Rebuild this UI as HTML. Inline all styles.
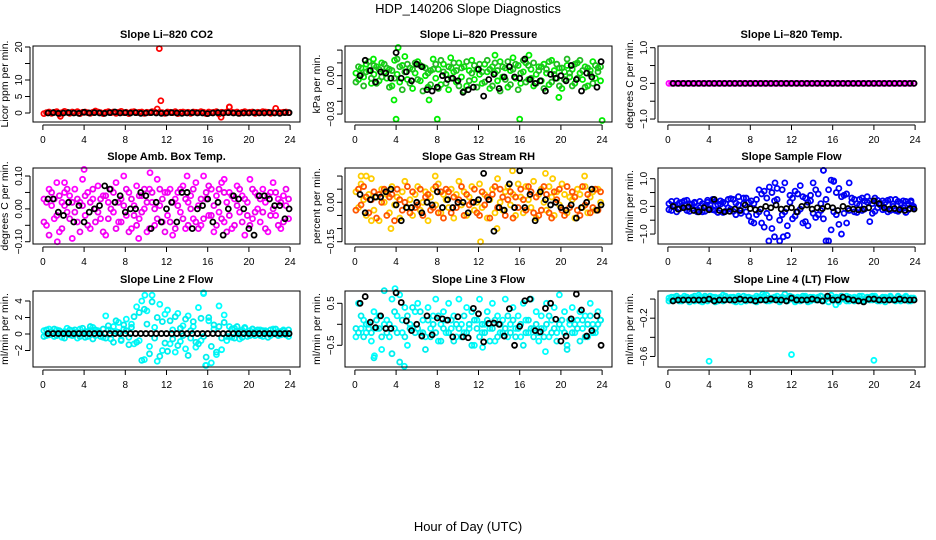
<!DOCTYPE html>
<html><head><meta charset="utf-8"><title>HDP_140206 Slope Diagnostics</title>
<style>
html,body{margin:0;padding:0;background:#fff;}
svg{display:block;font-family:"Liberation Sans",Arial,sans-serif;}
</style></head>
<body>
<svg id="chart" width="936" height="540" viewBox="0 0 936 540" xmlns="http://www.w3.org/2000/svg">
<rect x="0" y="0" width="936" height="540" fill="#fff"/>
<text x="468" y="13" text-anchor="middle" font-size="13">HDP_140206  Slope Diagnostics</text>
<text x="468" y="531" text-anchor="middle" font-size="13">Hour of Day (UTC)</text>
</svg>
<script>
const hours = [0.1,0.35,0.6,0.85,1.1,1.35,1.6,1.85,2.1,2.35,2.6,2.85,3.1,3.35,3.6,3.85,4.1,4.35,4.6,4.85,5.1,5.35,5.6,5.85,6.1,6.35,6.6,6.85,7.1,7.35,7.6,7.85,8.1,8.35,8.6,8.85,9.1,9.35,9.6,9.85,10.1,10.35,10.6,10.85,11.1,11.35,11.6,11.85,12.1,12.35,12.6,12.85,13.1,13.35,13.6,13.85,14.1,14.35,14.6,14.85,15.1,15.35,15.6,15.85,16.1,16.35,16.6,16.85,17.1,17.35,17.6,17.85,18.1,18.35,18.6,18.85,19.1,19.35,19.6,19.85,20.1,20.35,20.6,20.85,21.1,21.35,21.6,21.85,22.1,22.35,22.6,22.85,23.1,23.35,23.6,23.85];
const blackHours = [0.5,1,1.5,2,2.5,3,3.5,4,4.5,5,5.5,6,6.5,7,7.5,8,8.5,9,9.5,10,10.5,11,11.5,12,12.5,13,13.5,14,14.5,15,15.5,16,16.5,17,17.5,18,18.5,19,19.5,20,20.5,21,21.5,22,22.5,23,23.5,23.9];
const xTicks = [0,4,8,12,16,20,24];

// Panel 1: CO2
const co2A = [-.2,.1,.3,-.1,.2,.4,-.3,.1,.5,.2,-.1,.3,.1,.4,-.2,.2,.3,.1,-.1,.2,.6,.3,.1,-.2,.2,.4,.1,.3,-.1,.2,.5,.1,.2,-.2,.3,.4,.1,.2,.3,-.1,.2,.1,.4,.3,1.2,.2,.1,-.1,.3,.2,.1,.4,-.2,.2,.3,.1,.2,-.1,.3,.2,.1,.4,.2,-.2,.3,.1,.2,.4,-.3,.2,.1,.3,1.8,.2,.1,.3,-.1,.2,.4,.1,.2,.3,-.1,.2,.1,.4,.3,.2,-.1,.2,1.4,.3,.1,.2,.3,.1];
const co2B = [];
const co2OutH = [11.3,11.45,17.3,1.7,18.1];
const co2OutV = [19.5,3.7,-1.3,-1.0,1.8];
const co2Black = [0,0.1,-0.1,0,0.1,0,-0.1,0.2,0,0.1,0,-0.1,0.1,0.3,0,0.1,0,0.1,-0.1,0,0.1,0,-0.1,0,0.1,0,-0.1,0,0.1,0,0,-0.2,0,0.1,0,0.1,0,-0.1,0,0,0.1,0,0,0.1,0,-0.1,0.1,0.1];

// Panel 2: Pressure
const presA = [.002,-.003,.006,-.001,.009,.004,-.006,.001,.007,-.004,.010,.003,-.002,.005,-.008,.012,.001,-.005,.008,.015,-.003,.006,-.010,.002,.011,-.004,.007,.000,-.009,.004,.013,-.002,.005,-.007,.009,.001,-.011,.006,.003,-.005,.010,-.001,.007,-.008,.004,.012,-.003,.005,.001,-.006,.009,.003,-.010,.007,.002,-.004,.011,-.001,.006,-.009,.004,.014,-.002,.008,-.006,.003,.010,-.003,.005,-.008,.001,.007,-.004,.009,.002,-.007,.012,.004,-.002,.006,-.010,.003,.008,-.001,.005,-.006,.010,.002,-.003,.007,-.008,.004,.011,-.002,.006,-.004];
const presB = [-.005,.007,.001,-.008,.003,.011,-.002,.008,-.006,.005,-.001,.009,.006,-.009,.004,-.002,.013,.007,-.011,.003,.009,-.006,.005,.010,-.003,.008,-.012,.006,.002,-.007,.005,.009,-.010,.012,.003,-.006,.007,-.002,.010,.004,-.008,.006,-.012,.011,-.004,.002,.008,-.009,.009,.003,-.005,.012,.005,-.008,.010,.004,-.012,.007,-.003,.011,-.007,.005,.009,-.011,.002,.012,-.005,.008,-.002,.010,-.006,.004,.007,-.010,.005,.011,-.005,.001,.009,-.008,.006,-.003,.013,.002,-.008,.009,-.002,.012,.004,-.009,.006,.001,-.006,.008,.003,.007];
const presOutH = [4.2,4,8,16,24,3.8,7.2,19.8,16.9,13.6,1.8,9.3];
const presOutV = [.022,-.034,-.034,-.034,-.035,-.019,-.019,-.017,.016,.016,.013,.014];
const presBlack = [.000,.012,.004,-.005,.003,.002,-.002,.018,-.002,.003,-.004,.009,.007,-.011,-.012,-.009,.000,-.003,-.002,-.004,-.013,-.011,-.009,.005,-.016,-.003,.001,-.010,-.001,.007,-.001,-.002,.013,-.003,-.006,-.004,-.012,.001,-.002,.000,-.004,.008,-.003,-.012,.002,-.001,-.009,.011];

// Panel 3: Li-820 Temp
const tempA = [0,0,0,0,0,0,0,0,0,0,0,0,0,0,0,0,0,0,0,0,0,0,0,0,0,0,0,0,0,0,0,0,0,0,0,0,0,0,0,0,0,0,0,0,0,0,0,0,0,0,0,0,0,0,0,0,0,0,0,0,0,0,0,0,0,0,0,0,0,0,0,0,0,0,0,0,0,0,0,0,0,0,0,0,0,0,0,0,0,0,0,0,0,0,0,0];
const tempB = [];
const tempOutH = [];
const tempOutV = [];
const tempBlack = [0,0,0,0,0,0,0,0,0,0,0,0,0,0,0,0,0,0,0,0,0,0,0,0,0,0,0,0,0,0,0,0,0,0,0,0,0,0,0,0,0,0,0,0,0,0,0,0];

// Panel 4: Amb Box Temp
const ambA = [.03,-.05,.06,.01,-.03,.08,-.07,.02,.05,-.01,.04,-.09,.06,-.04,.02,.09,-.02,.05,-.06,.03,.00,.07,-.03,.04,-.08,.02,.06,-.01,.08,-.04,.03,.10,-.02,.05,-.06,.01,.07,-.03,.04,.00,-.07,.06,.02,-.05,.09,.01,-.04,.05,-.02,.06,-.08,.03,.05,-.01,.07,-.06,.02,.04,-.03,.08,.01,-.05,.10,.03,-.02,.06,-.07,.04,-.01,.08,-.04,.02,.05,-.06,.03,.07,-.01,.04,-.08,.02,.09,-.03,.05,.00,-.04,.06,.02,-.07,.05,.08,-.02,.03,-.06,.04,.01,-.03];
const ambB = [-.04,.02,-.08,.05,.03,-.02,.04,-.06,.01,.06,-.03,.02,-.01,.03,-.07,.01,.04,-.05,.02,.06,-.04,-.01,.03,-.07,.04,-.03,.00,.05,-.06,.02,-.04,.01,.06,-.07,.03,-.02,-.05,.04,-.01,.06,.02,-.06,.05,.00,-.03,.06,.03,-.07,.05,-.04,.02,-.06,.01,.06,-.03,.03,-.05,.00,.06,-.04,-.06,.03,-.03,.05,.07,-.02,.01,-.05,.06,-.03,.05,-.07,-.02,.04,-.05,.01,.06,-.04,.03,-.02,-.05,.06,-.01,.04,.03,-.01,-.06,.04,-.02,.00,.05,-.05,.02,-.04,.06,.03];
const ambOutH = [4,1.4,9.3,14,2.1,10.4,17.6];
const ambOutV = [.12,-.10,-.09,.10,.08,.11,.09];
const ambBlack = [.03,.03,-.01,-.02,.02,-.04,.01,-.04,-.01,.00,.01,.07,.06,.02,.04,-.01,.00,.00,.05,.04,-.06,.02,-.04,.00,.02,-.04,.05,.05,-.06,.00,.01,.03,-.04,.02,-.08,.00,.04,.03,.00,-.06,-.08,.04,.04,.03,.01,.01,-.03,.00];

// Panel 5: Gas Stream RH
const rhA = [.04,-.02,.07,.01,-.05,.03,.09,-.03,.02,-.07,.05,.00,.03,-.04,.06,-.01,.02,-.06,.04,.08,-.02,.01,-.05,.03,.06,-.03,.00,.04,-.07,.02,.05,-.01,.07,-.04,.03,.01,-.02,.05,-.06,.03,.08,-.01,.04,-.05,.02,.06,-.03,.00,.07,-.02,.03,-.06,.01,.05,-.04,.09,.00,-.03,.04,.06,-.01,.03,-.05,.07,.02,-.04,.06,.01,-.02,.08,-.06,.03,.05,.00,-.03,.06,.02,-.05,.04,-.01,.07,.03,-.04,.02,.01,-.06,.05,.03,-.02,.06,-.04,.02,.04,-.03,.05,.00];
const rhB = [-.03,.05,-.01,.06,.02,-.04,.01,.04,-.06,.03,.00,.05,-.05,.02,.03,-.07,.05,.01,-.03,.00,.06,-.04,.04,-.02,-.01,.05,-.05,.02,.03,-.03,-.02,.06,-.04,.04,-.06,.05,.04,-.04,.02,-.02,.01,.06,-.05,.03,-.01,.00,.05,-.04,-.05,.04,-.01,.02,-.06,.03,.06,-.02,.05,.02,-.05,.01,.04,-.06,.02,-.02,.05,.01,-.03,.06,.04,-.04,.02,-.05,-.03,.06,.03,-.04,-.06,.04,.01,.05,-.03,-.05,.06,-.02,.04,.02,-.03,-.05,.06,-.01,.03,-.04,-.02,.05,-.03,.04];
const rhOutH = [0.6,1.1,1.6,3.5,7.8,12.2,13.8,15.3,18.5,22.3,19.2];
const rhOutV = [.10,.10,-.07,-.10,.10,-.15,-.10,.12,.11,.10,.09];
const rhBlack = [.03,-.04,.01,.02,.02,.04,.05,-.01,-.07,-.02,-.02,.00,-.04,.00,-.01,.04,-.02,.01,-.02,.00,.00,-.04,.00,.01,.11,.01,-.11,-.02,-.03,.07,-.02,.12,-.02,.03,-.07,.04,.01,-.01,.00,-.02,-.03,-.01,-.06,-.02,.00,.05,-.03,-.01];

// Panel 6: Sample Flow
const sampA = [.10,-.15,.05,.20,-.10,.15,-.05,.22,-.18,.08,.12,-.12,.18,-.20,.02,.15,-.08,.25,-.15,.06,.20,-.22,.10,-.05,.28,-.18,.12,.05,-.25,.30,-.20,.15,-.55,.10,-.30,.60,-.60,.55,-.25,.70,-.80,.20,.65,-1.25,-.30,.85,-.70,.40,-.45,.55,-.20,.75,-.60,.30,-.70,.20,.85,-.40,.45,-.15,1.3,-1.25,.60,-.85,.90,-.30,.65,-1.0,.40,-.60,.85,.15,-.20,.10,.25,-.15,.20,.35,-.55,.10,-.18,.22,.05,-.12,.15,-.20,.25,.00,-.15,.18,-.08,.20,-.22,.10,.15,-.05];
const sampB = [-.12,.18,-.02,-.20,.12,.00,.20,-.15,.10,-.08,.15,-.20,-.05,.10,-.18,.22,.05,-.12,.18,-.22,.08,.15,-.18,.25,-.10,.25,-.30,.35,-.15,.10,.30,-.35,.20,-.60,.25,-.20,.45,-.75,.30,-.40,.50,-1.1,.25,-.50,.60,-.20,-1.05,.15,.30,-.35,.45,-.10,.35,-.55,.15,.40,-.25,.60,-.30,.10,-.45,.25,-1.25,.95,-.20,.50,-.65,.35,-.25,.45,-.15,.30,.25,-.22,.05,.30,-.10,.15,.20,-.25,.30,-.05,.12,.20,-.10,.22,-.15,.08,.25,-.18,.12,-.05,.18,-.12,.20,.00];
const sampOutH = [15.1,16.1,10.4,11.2,9.8];
const sampOutV = [1.3,.92,.85,-1.1,-1.25];
const sampBlack = [.00,-.10,-.05,-.02,-.15,-.20,-.05,-.12,.25,-.15,-.20,-.18,-.10,-.15,.05,-.08,-.12,-.10,.00,-.05,.05,-.10,-.08,-.05,-.20,.00,.05,-.10,-.05,-.08,.00,-.05,-.15,.00,-.08,-.10,-.12,-.10,-.05,.20,.10,-.05,-.10,-.08,-.12,-.15,-.08,-.10];

// Panel 7: Line 2 Flow
const l2A = [.4,-.2,.6,.1,-.3,.5,.2,-.4,.3,.7,-.1,.4,.2,-.5,.6,.0,.3,-.3,.5,.8,-.2,.4,.1,-.4,2.2,.5,-.6,.9,.3,1.4,-.8,.6,1.8,-.4,1.2,-1.2,3.3,-.8,4.0,-3.1,2.8,-1.5,4.7,.8,-3.3,3.6,-2.0,2.4,2.9,-1.2,.5,-2.2,2.5,-.9,1.0,-1.8,2.2,-.5,.9,-1.6,3.2,-.8,4.9,-3.8,1.6,-3.5,.6,-2.5,3.4,-1.9,2.3,-.8,.9,-.4,.7,.2,-.6,.5,.8,-.3,.4,.6,-.2,.3,.5,-.3,.4,.1,-.2,.6,.0,.3,-.1,.5,.2,-.3];
const l2B = [-.3,.5,-.1,.3,.6,-.2,.4,.1,-.5,.2,.5,-.2,.5,.2,-.3,.7,-.4,.3,.9,-.6,.5,.2,-.3,.6,-.5,1.0,.4,-1.0,1.6,.2,-.7,1.1,.4,-1.3,.8,2.1,-1.0,2.6,-3.2,3.0,1.2,-2.4,3.9,-.5,2.0,-2.7,1.5,-1.1,-2.1,1.6,-.6,2.1,-1.4,.7,-.2,1.8,-2.6,.4,1.5,-1.0,-1.2,1.9,-.3,-2.8,2.0,-1.5,1.1,-2.2,.9,-.5,1.4,-.3,-.3,.6,-.5,.9,.3,-.4,.7,.1,-.2,.6,.3,.5,-.2,.4,.3,-.4,.5,.1,.6,-.2,.3,.4,-.1,.5];
const l2OutH = [9.9,15.8,15.6];
const l2OutV = [4.7,-3.8,5.0];
const l2Black = [.05,.05,.05,.05,.05,.05,.05,.05,.05,.05,.05,.05,.05,.05,.05,.05,.05,.05,.05,.05,.05,.05,.05,.05,.05,.05,.05,.05,.05,.05,.05,.05,.05,.05,.05,.05,.05,.05,.05,.05,.05,.05,.05,.05,.05,.05,.05,.05];

// Panel 8: Line 3 Flow
const l3A = [-.3,.5,-.1,.1,-.2,.0,-.4,.3,-.1,.2,-.6,.0,.1,-.3,.6,-.1,.2,.7,-.2,.4,-.5,.0,-.1,.3,.5,-.2,.1,-.3,.4,-.1,.2,.6,-.4,.0,.3,-.2,.5,-.1,.2,-.3,.6,.0,-.2,.4,-.1,.3,-.5,.1,.6,-.2,.0,.3,-.1,.5,-.4,.2,-.2,.1,.6,-.3,.0,.4,-.1,.2,-.3,.5,.1,-.2,.6,-.1,.3,-.4,.2,-.1,.5,-.3,.1,.4,-.2,.7,-.1,.3,-.5,.0,.4,-.2,.1,.3,-.1,.2,-.3,.5,.0,-.2,.3,.1];
const l3B = [-.1,-.2,.2,-.3,.0,-.1,-.2,-.8,.1,-.1,-.3,.8,-.2,.0,-.7,.3,-.2,-.9,.1,-.3,.2,-.1,.4,-.2,-.1,.3,-.2,-.6,.1,-.3,.0,-.2,.2,-.4,-.1,.1,-.2,.1,-.4,.0,-.1,-.3,.2,-.2,.0,-.5,.1,-.1,-.3,.0,-.2,.1,-.4,-.1,.1,-.3,.0,-.2,-.1,.2,-.2,.1,-.3,-.1,.0,-.5,-.2,.1,-.1,-.3,.0,-.2,-.1,-.3,.0,.2,-.2,-.1,-.4,.0,.1,-.2,-.6,.1,-.2,.0,-.1,-.4,.1,-.3,.0,.2,-.2,-.1,.0,.1];
const l3OutH = [4.8,3.9,1.9,12.4,18.5];
const l3OutV = [-1.0,.85,-.75,-.55,-.65];
const l3Black = [.50,.66,.05,-.08,.20,-.10,-.10,.75,.52,.08,-.15,.00,-.28,.20,-.25,.15,.13,.10,-.30,.18,-.30,-.32,.38,.25,-.42,.02,.03,.00,-.28,.37,-.50,-.05,.56,.60,-.15,-.18,.38,.50,.12,-.40,-.28,.13,.72,.34,-.28,-.15,.20,-.50];

// Panel 9: Line 4 (LT) Flow
const l4A = [.01,-.01,.02,.00,-.02,.01,.03,-.01,.00,.02,-.02,.01,.02,-.03,.01,.00,.03,-.01,.02,-.02,.01,.04,-.01,.00,.02,-.02,.01,.03,-.03,.00,.02,-.01,.01,-.02,.03,.00,.02,-.01,.04,-.02,.01,.00,.03,-.02,.01,.05,-.01,.02,.00,-.03,.02,.01,-.01,.03,.00,-.02,.02,.01,-.01,.03,-.02,.00,.02,.04,-.01,.01,-.03,.02,.00,.03,-.02,.01,.02,-.01,.00,.03,-.02,.01,.02,-.01,.03,.00,-.02,.01,.02,-.01,.03,.00,-.02,.02,.01,-.01,.03,.00,-.02,.01];
const l4B = [-.02,.02,-.01,.03,.01,-.02,.00,.02,-.03,.01,.03,-.01,-.02,.01,.03,-.02,.00,.02,-.03,.01,.02,-.02,.03,.01,-.01,.02,-.03,.01,.00,.03,-.02,.02,-.01,.01,-.03,.02,.00,.03,-.02,.01,-.01,.02,.00,-.03,.02,.01,-.02,.03,.02,-.01,.00,-.02,.03,.01,-.03,.02,.00,-.01,.02,.03,-.01,.02,-.03,.01,.00,.02,-.02,.03,.01,-.02,.02,.00,-.02,.01,.03,-.02,.00,.02,-.01,.03,.01,-.02,.00,.02,-.03,.01,.02,-.01,.00,.03,-.02,.01,.02,-.02,.01,.00];
const l4OutH = [4,12,20,9.2,3.0,16.3];
const l4OutV = [-.65,-.58,-.64,.05,.04,-.06];
const l4Black = [-.02,-.01,-.01,-.01,-.01,-.01,-.01,.00,-.02,-.01,-.01,-.01,-.01,.00,-.01,-.01,-.02,-.01,-.01,.00,-.01,-.01,-.02,.01,-.01,-.01,-.01,.00,-.01,-.02,.03,-.01,-.01,.02,.00,-.01,-.02,-.03,.00,.00,-.01,-.01,-.01,-.01,.00,-.01,-.01,-.01];

const NS = 'http://www.w3.org/2000/svg';
const svg = document.getElementById('chart');
const colX = [33,345,658];
const rowY = [46,168,291];
const W = 267, H = 76;
const X_MIN = -0.96, X_MAX = 24.96;

const panels = [
 {key:'co2', title:'Slope Li\u2013820 CO2', ylab:'Licor ppm per min.', c:0, r:0, dom:[-2.73,20.3], ticks:[0,5,10,15,20], tl:['0','5','10','','20'], a:co2A, b:co2B, oh:co2OutH, ov:co2OutV, k:co2Black, ca:'#ff0000', cb:'#ff0000'},
 {key:'pressure', title:'Slope Li\u2013820 Pressure', ylab:'kPa per min.', c:1, r:0, dom:[-0.0362,0.0232], ticks:[-0.03,-0.02,-0.01,0,0.01,0.02], tl:['\u22120.03','','','0.00','',''], a:presA, b:presB, oh:presOutH, ov:presOutV, k:presBlack, ca:'#00ee00', cb:'#22bb22'},
 {key:'li820-temp', title:'Slope Li\u2013820 Temp.', ylab:'degrees C per min.', c:2, r:0, dom:[-1.083,1.048], ticks:[-1,-0.5,0,0.5,1], tl:['\u22121.0','','0.0','','1.0'], a:tempA, b:tempB, oh:tempOutH, ov:tempOutV, k:tempBlack, ca:'#ff00ff', cb:'#ff00ff'},
 {key:'amb-box-temp', title:'Slope Amb. Box Temp.', ylab:'degrees C per min.', c:0, r:1, dom:[-0.1069,0.1244], ticks:[-0.1,-0.05,0,0.05,0.1], tl:['\u22120.10','','0.00','','0.10'], a:ambA, b:ambB, oh:ambOutH, ov:ambOutV, k:ambBlack, ca:'#ff00ff', cb:'#ee00ee'},
 {key:'gas-stream-rh', title:'Slope Gas Stream RH', ylab:'percent per min.', c:1, r:1, dom:[-0.1587,0.1306], ticks:[-0.15,-0.1,-0.05,0,0.05,0.1], tl:['\u22120.15','','','0.00','',''], a:rhA, b:rhB, oh:rhOutH, ov:rhOutV, k:rhBlack, ca:'#ffcc00', cb:'#ff5500'},
 {key:'sample-flow', title:'Slope Sample Flow', ylab:'ml/min per min.', c:2, r:1, dom:[-1.36,1.387], ticks:[-1,-0.5,0,0.5,1], tl:['\u22121.0','','0.0','','1.0'], a:sampA, b:sampB, oh:sampOutH, ov:sampOutV, k:sampBlack, ca:'#0000ff', cb:'#0000ee'},
 {key:'line2-flow', title:'Slope Line 2 Flow', ylab:'ml/min per min.', c:0, r:2, dom:[-4.0,5.21], ticks:[-2,0,2,4], tl:['\u22122','0','2','4'], a:l2A, b:l2B, oh:l2OutH, ov:l2OutV, k:l2Black, ca:'#00ffff', cb:'#00eeee'},
 {key:'line3-flow', title:'Slope Line 3 Flow', ylab:'ml/min per min.', c:1, r:2, dom:[-1.017,0.793], ticks:[-0.5,0,0.5], tl:['\u22120.5','','0.5'], a:l3A, b:l3B, oh:l3OutH, ov:l3OutV, k:l3Black, ca:'#00ffff', cb:'#00eeee'},
 {key:'line4-flow', title:'Slope Line 4 (LT) Flow', ylab:'ml/min per min.', c:2, r:2, dom:[-0.71,0.084], ticks:[-0.6,-0.4,-0.2,0], tl:['\u22120.6','','\u22120.2',''], a:l4A, b:l4B, oh:l4OutH, ov:l4OutV, k:l4Black, ca:'#00ffff', cb:'#00eeee'}
];

function mk(tag, attrs, parent){
  const e = document.createElementNS(NS, tag);
  for (const k in attrs) e.setAttribute(k, attrs[k]);
  (parent||svg).appendChild(e);
  return e;
}

panels.forEach(p => {
  const x0 = colX[p.c], y0 = rowY[p.r];
  const xs = h => x0 + (h - X_MIN) / (X_MAX - X_MIN) * W;
  const ys = v => y0 + H - (v - p.dom[0]) / (p.dom[1] - p.dom[0]) * H;
  const g = mk('g', {});
  
  

  const t = mk('text', {x: x0 + W/2, y: y0 - 8, 'text-anchor':'middle', 'font-size':'11', 'font-weight':'bold'}, g);
  t.textContent = p.title;
  
  

  const yl = mk('text', {x: 0, y: 0, 'text-anchor':'middle', 'font-size':'10.5', transform:`translate(${x0-25},${y0+H/2}) rotate(-90)`}, g);
  yl.textContent = p.ylab;
  
  

  const pts = mk('g', {fill:'none', 'stroke-width':'1.8'}, g);
  
  
  const drawSeries = (hs, vs, color, nm) => {
    const n = Math.min(hs.length, vs.length);
    for (let i = 0; i < n; i++) {
      const c = mk('circle', {cx: xs(hs[i]), cy: ys(vs[i]), r: 2.5, stroke: color}, pts);
      
      
    }
  };
  drawSeries(hours, p.a, p.ca, p.key + '-point');
  drawSeries(hours, p.b, p.cb, p.key + '-point');
  drawSeries(p.oh, p.ov, p.ca, p.key + '-outlier');
  drawSeries(blackHours, p.k, '#000', p.key + '-hourly-point');

  const box = mk('rect', {x:x0, y:y0, width:W, height:H, fill:'none', stroke:'#000', 'stroke-width':'1'}, g);
  
  

  const xa = mk('g', {stroke:'#000', 'stroke-width':'1'}, g);
  
  
  mk('line', {x1: xs(xTicks[0]), x2: xs(xTicks[xTicks.length-1]), y1: y0+H+3, y2: y0+H+3}, xa);
  xTicks.forEach(tv => {
    mk('line', {x1: xs(tv), x2: xs(tv), y1: y0+H+3, y2: y0+H+8}, xa);
    const tt = mk('text', {x: xs(tv), y: y0+H+21, 'text-anchor':'middle', 'font-size':'10', stroke:'none', fill:'#000'}, xa);
    tt.textContent = String(tv);
    
    
  });

  const ya = mk('g', {stroke:'#000', 'stroke-width':'1'}, g);
  
  
  mk('line', {x1: x0-3, x2: x0-3, y1: ys(p.ticks[0]), y2: ys(p.ticks[p.ticks.length-1])}, ya);
  p.ticks.forEach((tv, i) => {
    mk('line', {x1: x0-8, x2: x0-3, y1: ys(tv), y2: ys(tv)}, ya);
    if (p.tl[i]) {
      const tt = mk('text', {x:0, y:0, 'text-anchor':'middle', 'font-size':'10', stroke:'none', fill:'#000', transform:`translate(${x0-11},${ys(tv)}) rotate(-90)`}, ya);
      tt.textContent = p.tl[i];
      
      
    }
  });
});
</script>
</body></html>
